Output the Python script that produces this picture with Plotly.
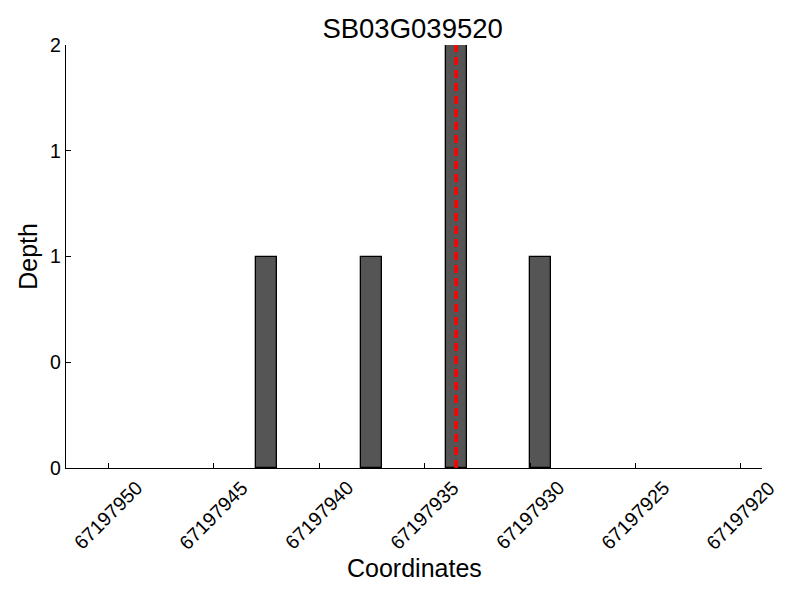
import plotly.graph_objects as go

title = "SB03G039520"
coords = [67197943, 67197938, 67197934, 67197930]
depth = [1, 1, 2, 1]
marker_pos = 67197933.5
x_ticks = [67197950, 67197945, 67197940, 67197935, 67197930, 67197925, 67197920]
x_ticklabels = [str(v) for v in x_ticks]
y_ticks = [0, 0.5, 1, 1.5, 2]
y_ticklabels = ["0", "0", "1", "1", "2"]
x_range = [67197952, 67197919]
y_range = [0, 2]
x_title = "Coordinates"
y_title = "Depth"

font = "Liberation Sans, Arial, sans-serif"

fig = go.Figure()
fig.add_trace(go.Bar(
    x=coords, y=depth, width=1, offset=-1,
    marker=dict(color="#555555", line=dict(color="black", width=1.3)),
    showlegend=False,
))
fig.add_trace(go.Scatter(
    x=[marker_pos, marker_pos], y=y_range, mode="lines",
    line=dict(color="red", width=3.5, dash="8px,5px"),
    showlegend=False,
))

annotations = []
for v, lab in zip(x_ticks, x_ticklabels):
    annotations.append(dict(
        x=v, y=0, xref="x", yref="paper", text=lab, showarrow=False,
        textangle=-45, xanchor="center", yanchor="top", yshift=-6,
        font=dict(size=19.5, family=font, color="black"),
    ))
annotations.append(dict(
    x=0.5, y=-0.237, xref="paper", yref="paper", text=x_title, showarrow=False,
    xanchor="center", yanchor="middle",
    font=dict(size=25, family=font, color="black"),
))
annotations.append(dict(
    x=-0.0556, y=0.5, xref="paper", yref="paper", text=y_title, showarrow=False,
    textangle=-90, xanchor="center", yanchor="middle",
    font=dict(size=25, family=font, color="black"),
))

fig.update_layout(
    width=792, height=592,
    paper_bgcolor="white", plot_bgcolor="white",
    margin=dict(l=58, r=38, t=37, b=132, autoexpand=False),
    font=dict(family=font, color="black"),
    title=dict(text=title, x=0.498, xanchor="center", y=0.966, yanchor="middle",
               xref="paper", font=dict(size=27.5, family=font, color="black")),
    bargap=0,
    annotations=annotations,
)
fig.update_xaxes(
    range=x_range, tickvals=x_ticks, showticklabels=False,
    ticks="inside", ticklen=5, tickwidth=1, tickcolor="black",
    showline=True, linecolor="black", linewidth=1.3, mirror=False,
    showgrid=False, zeroline=False, automargin=False,
)
fig.update_yaxes(
    range=y_range, tickvals=y_ticks, ticktext=y_ticklabels,
    ticks="inside", ticklen=5, tickwidth=1, tickcolor="black",
    showline=True, linecolor="black", linewidth=1.3, mirror=False,
    showgrid=False, zeroline=False, automargin=False,
    tickfont=dict(size=19.5, family=font, color="black"),
)

fig.write_html("out.html")
